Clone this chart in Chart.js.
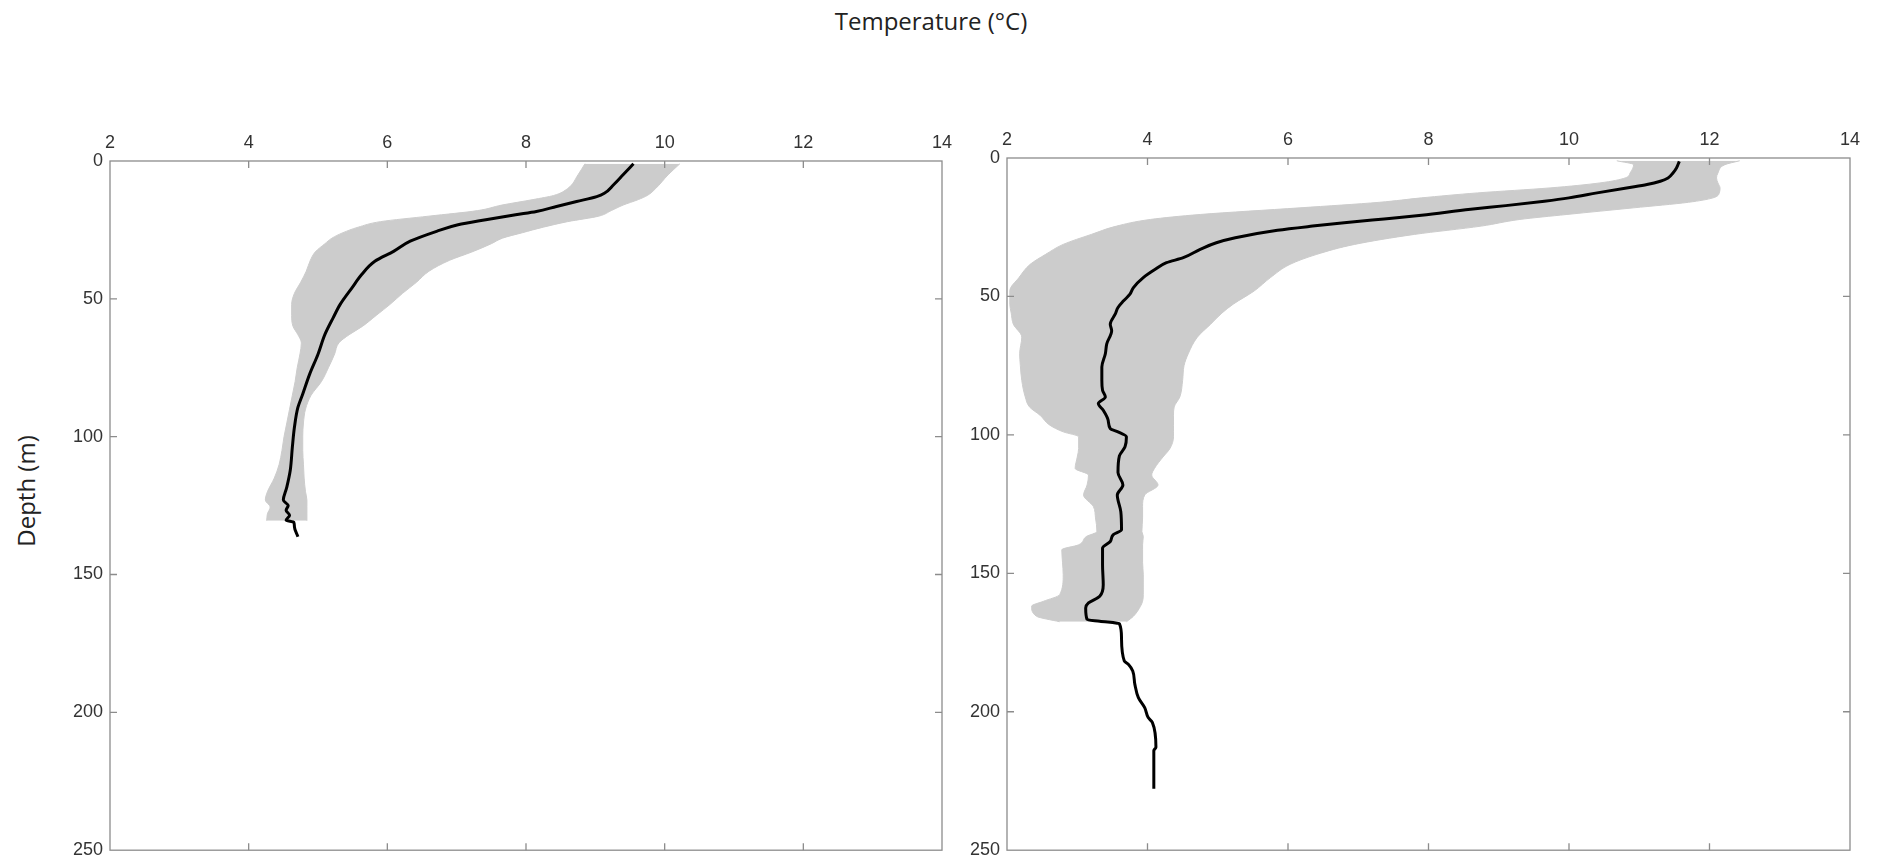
<!DOCTYPE html>
<html lang="en">
<head>
  <meta charset="UTF-8">
  <title>Temperature profiles</title>
  <script src="https://cdn.jsdelivr.net/npm/chart.js"></script>
  <style>
    body {
      margin: 0;
      width: 1879px;
      height: 868px;
      background: #fff;
      overflow: hidden;
      position: relative;
    }
    canvas {
      position: absolute;
      top: 0;
    }
    #left { left: 0; }
    #right { left: 960px; }
    .lbl {
      position: absolute;
      font-family: "Open Sans", sans-serif;
      font-size: 24px;
      line-height: 24px;
      color: #222;
      white-space: nowrap;
    }
    #title {
      left: 931px;
      top: 9px;
      transform: translateX(-50%);
    }
    #ylabel {
      left: 26px;
      top: 491px;
      transform: translate(-50%, -50%) rotate(-90deg);
    }
  </style>
</head>
<body>
  <div class="lbl" id="title">Temperature (°C)</div>
  <div class="lbl" id="ylabel">Depth (m)</div>
  <canvas id="left" width="970" height="868"></canvas>
  <canvas id="right" width="919" height="868"></canvas>

  <script>
    // axis ticks
    const tempTicks = [2, 4, 6, 8, 10, 12, 14];
    const depthTicks = [0, 50, 100, 150, 200, 250];

    // left profile : grey band (min / max) and mean
    const bandDepthL = [1, 5, 10, 12.5, 14, 16, 18, 20, 22, 24, 26, 28, 30, 33, 36, 40, 44, 48, 52, 56,
      60, 63, 66, 70, 75, 80, 85, 90, 95, 100, 105, 110, 115, 120, 123, 125.5, 128, 130.5];
    const bandMinL = [8.85, 8.75, 8.60, 8.40, 8.10, 7.65, 7.30, 6.60, 5.90, 5.58, 5.36, 5.20, 5.10, 4.96, 4.89, 4.83, 4.75, 4.66, 4.62, 4.62,
      4.64, 4.71, 4.76, 4.74, 4.70, 4.67, 4.63, 4.59, 4.55, 4.51, 4.48, 4.44, 4.37, 4.27, 4.24, 4.31, 4.27, 4.26];
    const bandMaxL = [10.22, 10.05, 9.87, 9.75, 9.62, 9.40, 9.23, 9.05, 8.60, 8.25, 7.95, 7.66, 7.50, 7.22, 6.90, 6.60, 6.42, 6.22, 6.04, 5.84,
      5.64, 5.45, 5.30, 5.24, 5.15, 5.05, 4.90, 4.82, 4.79, 4.78, 4.78, 4.79, 4.80, 4.82, 4.84, 4.84, 4.84, 4.84];
    const meanDepthL = [1, 5, 8.7, 11.7, 12.9, 14.7, 16.5, 18.3, 19.5, 21.3, 23.1, 25.5, 29.1, 32.8, 36.4, 41.2, 46, 52,
      56.8, 62.9, 70.1, 77.3, 84.5, 89.4, 96.6, 103.8, 112.2, 118.3, 123, 125, 126.7, 128.5, 130.3, 131, 132.7, 136.3];
    const meanTempL = [9.55, 9.40, 9.26, 9.13, 9.02, 8.73, 8.44, 8.15, 7.85, 7.42, 7.02, 6.71, 6.33, 6.09, 5.82, 5.63, 5.49, 5.32,
      5.22, 5.10, 5.00, 4.88, 4.78, 4.71, 4.66, 4.63, 4.60, 4.55, 4.50, 4.57, 4.54, 4.59, 4.54, 4.65, 4.66, 4.71];

    // right profile
    const bandDepthR = [1, 2.4, 5.4, 7.2, 9, 10.8, 12.6, 14.4, 16, 18, 20.4, 22.2, 24.6, 27.6, 31.2, 34.8, 38.4, 43.2, 48, 52.8,
      56, 60, 64.7, 70.7, 75, 80.3, 86.3, 89.9, 92.9, 96.5, 98.9, 100.7, 104.9, 108, 112.1, 114.5, 118.1, 121.7, 125.9, 130,
      134.9, 136.7, 139.7, 141.5, 146, 150.5, 157.7, 160.1, 161.9, 165.5, 167.5];
    const bandMinR = [10.68, 10.92, 10.87, 10.80, 10.44, 9.73, 8.70, 7.90, 7.30, 6.17, 4.75, 4.04, 3.56, 3.20, 2.80, 2.55, 2.33, 2.17, 2.04, 2.04,
      2.06, 2.09, 2.21, 2.18, 2.19, 2.21, 2.26, 2.32, 2.47, 2.61, 2.80, 3.02, 3.02, 3.00, 2.97, 3.16, 3.14, 3.09, 3.23, 3.26,
      3.28, 3.13, 3.02, 2.78, 2.79, 2.80, 2.75, 2.52, 2.35, 2.42, 2.75];
    const bandMaxR = [12.43, 12.22, 12.12, 12.10, 12.12, 12.15, 12.14, 12.05, 11.70, 10.92, 9.97, 9.30, 8.75, 7.80, 6.95, 6.41, 6.03, 5.75, 5.52, 5.22,
      5.06, 4.90, 4.71, 4.58, 4.52, 4.50, 4.46, 4.38, 4.37, 4.37, 4.37, 4.37, 4.32, 4.22, 4.10, 4.06, 4.15, 3.96, 3.93, 3.93,
      3.92, 3.94, 3.93, 3.93, 3.93, 3.94, 3.94, 3.93, 3.90, 3.80, 3.70];
    const meanDepthR = [1.2, 3.6, 5.4, 7.2, 8.4, 9.6, 10.8, 12.6, 14.4, 15.6, 17.2, 18.5, 20.7, 21.6, 22.4, 23.4, 24.6, 26.1, 28.8, 30.6,
      33, 36, 37.8, 40.2, 43.2, 46.8, 49.2, 51.6, 54, 56.4, 60, 62.4, 67.1, 70.7, 75.5, 80.3, 83.9, 86.3, 88.7, 91.1,
      94.7, 97.7, 98.9, 100.7, 104.3, 107.6, 113.6, 118.1, 121.7, 127.7, 134.3, 136.1, 138.5, 140.9, 146.9, 154.1, 158.3, 160.7, 162.5, 166.7,
      167.3, 168.2, 173.3, 181.7, 182.9, 185.3, 190.1, 194.9, 198.5, 202.1, 203.9, 212.8, 214, 227.8];
    const meanTempR = [11.57, 11.53, 11.48, 11.41, 11.30, 11.11, 10.82, 10.40, 10.00, 9.65, 9.10, 8.60, 7.90, 7.55, 7.20, 6.80, 6.35, 5.85, 5.25, 4.98,
      4.75, 4.51, 4.27, 4.11, 3.94, 3.80, 3.75, 3.66, 3.58, 3.54, 3.47, 3.49, 3.42, 3.40, 3.35, 3.35, 3.36, 3.40, 3.30, 3.37,
      3.44, 3.47, 3.58, 3.70, 3.68, 3.60, 3.58, 3.65, 3.57, 3.62, 3.63, 3.51, 3.47, 3.36, 3.36, 3.37, 3.32, 3.16, 3.12, 3.14,
      3.32, 3.60, 3.63, 3.67, 3.73, 3.79, 3.82, 3.87, 3.96, 4.01, 4.07, 4.12, 4.09, 4.09];

    const tickFont = { family: '"Liberation Sans", Arial, sans-serif', size: 18 };
    const tickColor = '#333';
    const bandColor = '#cccccc';

    const pts = (depths, temps) => depths.map((d, i) => ({ x: temps[i], y: d }));

    // box round the plot with inward ticks on all four sides
    const framePlugin = {
      id: 'frame',
      afterDraw(chart) {
        const { ctx, chartArea: a } = chart;
        const x = chart.scales.x, y = chart.scales.y;
        const len = 7;
        ctx.save();
        ctx.strokeStyle = '#8c8c8c';
        ctx.lineWidth = 1.3;
        ctx.strokeRect(a.left, a.top, a.right - a.left, a.bottom - a.top);
        ctx.beginPath();
        x.ticks.forEach(t => {
          if (t.value <= x.min || t.value >= x.max) return;
          const px = x.getPixelForValue(t.value);
          ctx.moveTo(px, a.top); ctx.lineTo(px, a.top + len);
          ctx.moveTo(px, a.bottom); ctx.lineTo(px, a.bottom - len);
        });
        y.ticks.forEach(t => {
          if (t.value <= y.min || t.value >= y.max) return;
          const py = y.getPixelForValue(t.value);
          ctx.moveTo(a.left, py); ctx.lineTo(a.left + len, py);
          ctx.moveTo(a.right, py); ctx.lineTo(a.right - len, py);
        });
        ctx.stroke();
        ctx.restore();
      }
    };

    function makeChart(id, bandDepth, bandMin, bandMax, meanDepth, meanTemp, padding, yWidth) {
      return new Chart(document.getElementById(id), {
        type: 'line',
        data: {
          datasets: [
            {
              data: pts(meanDepth, meanTemp),
              borderColor: '#000',
              borderWidth: 3,
              pointRadius: 0,
              cubicInterpolationMode: 'monotone',
              fill: false
            },
            {
              data: pts(bandDepth, bandMin),
              borderColor: bandColor,
              borderWidth: 1,
              backgroundColor: bandColor,
              pointRadius: 0,
              cubicInterpolationMode: 'monotone',
              fill: '+1'
            },
            {
              data: pts(bandDepth, bandMax),
              borderColor: bandColor,
              borderWidth: 1,
              pointRadius: 0,
              cubicInterpolationMode: 'monotone',
              fill: false
            }
          ]
        },
        options: {
          indexAxis: 'y',
          responsive: false,
          animation: false,
          events: [],
          layout: { padding: padding },
          plugins: { legend: { display: false }, tooltip: { enabled: false } },
          scales: {
            x: {
              type: 'linear',
              position: 'top',
              min: 2,
              max: 14,
              afterBuildTicks: s => { s.ticks = tempTicks.map(v => ({ value: v })); },
              afterFit: s => { s.height = 40; },
              ticks: { font: tickFont, color: tickColor, padding: 7, maxRotation: 0 },
              grid: { display: false, drawTicks: false },
              border: { display: false }
            },
            y: {
              type: 'linear',
              position: 'left',
              reverse: true,
              min: 0,
              max: 250,
              afterBuildTicks: s => { s.ticks = depthTicks.map(v => ({ value: v })); },
              afterFit: s => { s.width = yWidth; },
              ticks: { font: tickFont, color: tickColor, padding: 7 },
              grid: { display: false, drawTicks: false },
              border: { display: false }
            }
          }
        },
        plugins: [framePlugin]
      });
    }

    makeChart('left', bandDepthL, bandMinL, bandMaxL, meanDepthL, meanTempL,
      { left: 60, top: 121, right: 28, bottom: 15 }, 50);
    makeChart('right', bandDepthR, bandMinR, bandMaxR, meanDepthR, meanTempR,
      { left: 0, top: 118, right: 29, bottom: 15 }, 47);
  </script>
</body>
</html>
